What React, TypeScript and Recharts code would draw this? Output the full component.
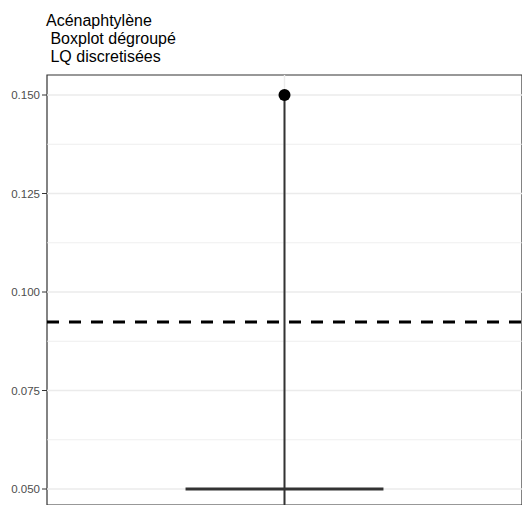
import React from "react";
import {
  ComposedChart,
  XAxis,
  YAxis,
  Scatter,
  ReferenceLine,
  ReferenceArea,
} from "recharts";

const titleLines = ["Acénaphtylène", " Boxplot dégroupé", " LQ discretisées"];

const yTicks = [0.05, 0.075, 0.1, 0.125, 0.15];
const yMinorTicks = [0.0625, 0.0875, 0.1125, 0.1375];
const categories = [1];

const outliers = [{ x: 1, y: 0.15 }];
const medianValue = 0.05;
const whiskerLow = 0.03;
const whiskerHigh = 0.15;
const thresholdValue = 0.0924;

const X_DOMAIN: [number, number] = [0.4, 1.6];
const Y_DOMAIN: [number, number] = [0.04594, 0.15508];
const BOX_HALF = 0.25;

const font = '"Liberation Sans", Arial, sans-serif';

export default function App() {
  return (
    <div style={{ position: "absolute", left: 0, top: 0, width: 522, height: 505, background: "#fff", overflow: "hidden" }}>
      <div
        style={{
          position: "absolute",
          left: 46,
          top: 12,
          fontFamily: font,
          fontSize: 16,
          lineHeight: "18px",
          color: "#000",
          whiteSpace: "pre",
        }}
      >
        {titleLines.map((l) => (
          <div key={l}>{l}</div>
        ))}
      </div>
      <ComposedChart width={522} height={505} margin={{ top: 75, right: 0, bottom: 0, left: 0 }}>
        <XAxis type="number" dataKey="x" domain={X_DOMAIN} hide allowDataOverflow />
        <YAxis
          type="number"
          dataKey="y"
          domain={Y_DOMAIN}
          ticks={yTicks}
          allowDataOverflow
          width={47}
          tickFormatter={(v: number) => v.toFixed(3)}
          tick={{ fill: "#4d4d4d", fontSize: 11.5, fontFamily: font }}
          tickLine={{ stroke: "#333" }}
          tickSize={5}
          tickMargin={2}
          axisLine={false}
        />

        {yMinorTicks.map((v) => (
          <ReferenceLine key={`mn${v}`} y={v} stroke="#ebebeb" strokeWidth={0.8} />
        ))}
        {yTicks.map((v) => (
          <ReferenceLine key={`mj${v}`} y={v} stroke="#ebebeb" strokeWidth={1.4} />
        ))}
        {categories.map((c) => (
          <ReferenceLine key={`vx${c}`} x={c} stroke="#ebebeb" strokeWidth={1.4} />
        ))}

        <ReferenceLine
          y={thresholdValue}
          stroke="#000"
          strokeWidth={3}
          strokeDasharray="12 10"
        />

        <ReferenceLine
          segment={[
            { x: categories[0], y: whiskerLow },
            { x: categories[0], y: whiskerHigh },
          ]}
          stroke="#333"
          strokeWidth={2}
          ifOverflow="hidden"
        />
        <ReferenceLine
          segment={[
            { x: categories[0] - BOX_HALF, y: medianValue },
            { x: categories[0] + BOX_HALF, y: medianValue },
          ]}
          stroke="#333"
          strokeWidth={3}
        />

        <Scatter
          data={outliers}
          isAnimationActive={false}
          shape={(p: any) => <circle cx={p.cx} cy={p.cy} r={6} fill="#000" />}
        />

        <ReferenceArea
          x1={X_DOMAIN[0]}
          x2={X_DOMAIN[1]}
          y1={Y_DOMAIN[0]}
          y2={Y_DOMAIN[1]}
          fill="none"
          stroke="#333"
          strokeWidth={1.2}
          ifOverflow="visible"
        />
      </ComposedChart>
    </div>
  );
}
